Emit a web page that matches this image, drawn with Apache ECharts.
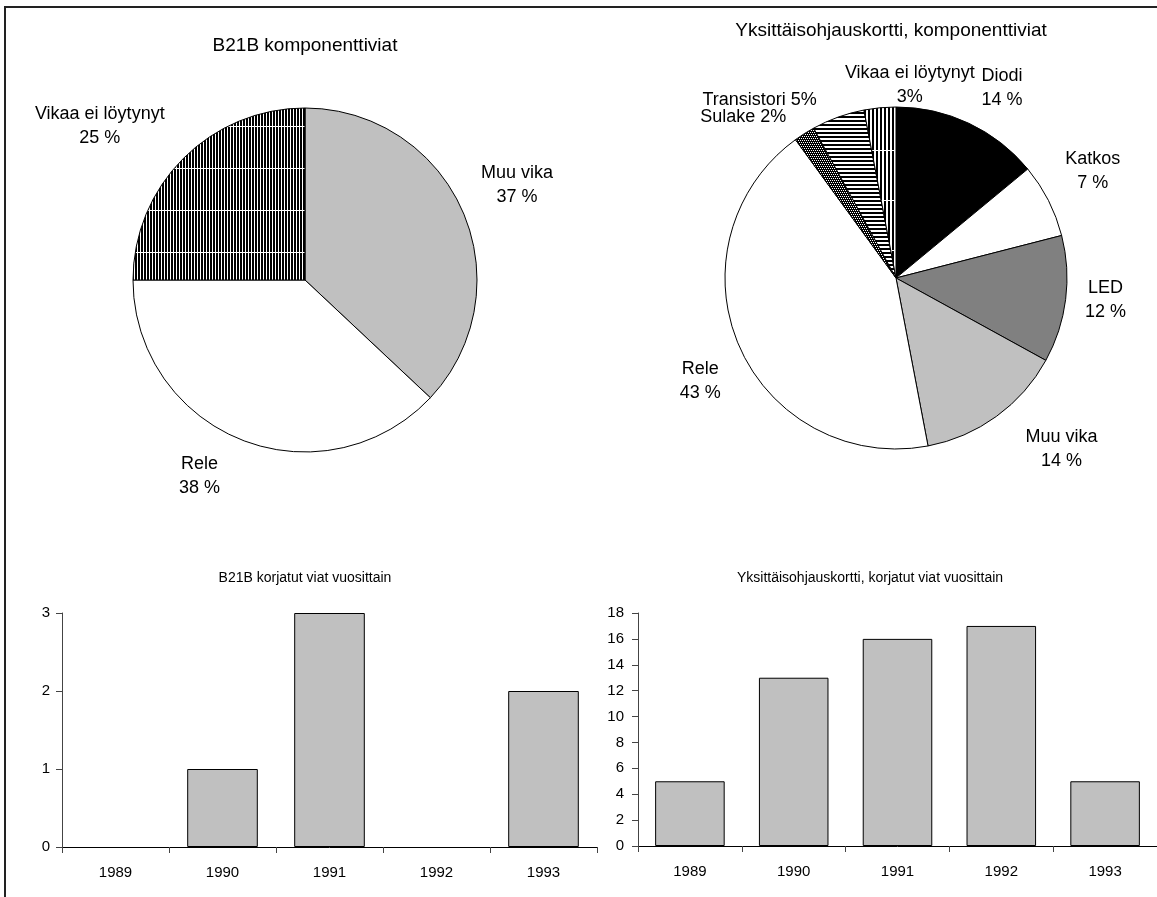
<!DOCTYPE html>
<html>
<head>
<meta charset="utf-8">
<script src="https://cdn.jsdelivr.net/npm/echarts@6/dist/echarts.min.js"></script>
<style>
  html, body { margin: 0; padding: 0; background: #fff; }
  #chart { width: 1157px; height: 897px; }
</style>
</head>
<body>
<div id="chart"></div>
<script>
// B21B pie
var b21bPieNames = ['Muu vika', 'Rele', 'Vikaa ei löytynyt']
var b21bPieValues = [37, 38, 25]
var b21bPieLabels = ['Muu vika\n37 %', 'Rele\n38 %', 'Vikaa ei löytynyt\n25 %']

// Yksittäisohjauskortti pie
var cardPieNames = ['Diodi', 'Katkos', 'LED', 'Muu vika', 'Rele', 'Sulake', 'Transistori', 'Vikaa ei löytynyt']
var cardPieValues = [14, 7, 12, 14, 43, 2, 5, 3]
var cardPieLabels = ['Diodi\n14 %', 'Katkos\n7 %', 'LED\n12 %', 'Muu vika\n14 %', 'Rele\n43 %', 'Sulake 2%', 'Transistori 5%', 'Vikaa ei löytynyt\n3%']

// repairs per year
var years = ['1989', '1990', '1991', '1992', '1993']
var b21bRepairs = [0, 1, 3, 0, 2]
var cardRepairs = [5, 13, 16, 17, 5]

var FONT = "'Liberation Sans', Arial, sans-serif"

function makePattern (w, h, draw) {
  var c = document.createElement('canvas')
  c.width = w
  c.height = h
  var ctx = c.getContext('2d')
  draw(ctx)
  return { image: c, repeat: 'repeat' }
}

var denseVertical = makePattern(3, 42, function (ctx) {
  ctx.fillStyle = '#000'
  ctx.fillRect(0, 0, 3, 42)
  ctx.fillStyle = '#fff'
  ctx.fillRect(2, 0, 1, 42)
  ctx.fillRect(0, 0, 3, 1)
})
var wideVertical = makePattern(4, 50, function (ctx) {
  ctx.fillStyle = '#fff'
  ctx.fillRect(0, 0, 4, 50)
  ctx.fillStyle = '#000'
  ctx.fillRect(0, 1, 2, 49)
})
var horizontalLines = makePattern(4, 4, function (ctx) {
  ctx.fillStyle = '#fff'
  ctx.fillRect(0, 0, 4, 4)
  ctx.fillStyle = '#000'
  ctx.fillRect(0, 0, 4, 2)
})
var dotted = makePattern(4, 4, function (ctx) {
  ctx.fillStyle = '#000'
  ctx.fillRect(0, 0, 4, 4)
  ctx.fillStyle = '#fff'
  ctx.fillRect(0, 0, 1, 1)
  ctx.fillRect(2, 0, 1, 1)
  ctx.fillRect(1, 2, 1, 1)
  ctx.fillRect(3, 2, 1, 1)
})

var b21bFills = ['#c0c0c0', '#ffffff', denseVertical]
var cardFills = ['#000000', '#ffffff', '#808080', '#c0c0c0', '#ffffff', dotted, horizontalLines, wideVertical]

// label nudges so text sits where the original had it
var b21bNudge = [[4, -5], [-22, -15], [-45, 6]]
var cardNudge = [[10, 14], [-4, -5], [-14, -6], [33, -11], [11, 14], [-32, 29], [-60, 34], [35, 31]]

function pieData (names, values, fills) {
  return names.map(function (n, i) {
    return { name: n, value: values[i], itemStyle: { color: fills[i] } }
  })
}

function pieSeries (center, r, names, values, fills) {
  return {
    type: 'pie',
    center: center,
    radius: r,
    startAngle: 90,
    silent: true,
    label: { show: false },
    labelLine: { show: false },
    itemStyle: { borderColor: '#000', borderWidth: 1 },
    data: pieData(names, values, fills)
  }
}

// invisible ring whose inside labels fall outside the real pie
function labelRing (center, r, names, values, labels, nudge) {
  return {
    type: 'pie',
    center: center,
    radius: [r, r * 1.6],
    startAngle: 90,
    silent: true,
    itemStyle: { color: 'rgba(0,0,0,0)', borderWidth: 0 },
    label: {
      show: true,
      position: 'inside',
      color: '#000',
      fontFamily: FONT,
      fontSize: 18,
      lineHeight: 24,
      formatter: function (p) { return labels[p.dataIndex] }
    },
    labelLine: { show: false },
    labelLayout: function (p) {
      var d = nudge[p.dataIndex]
      return { dx: d[0], dy: d[1] }
    },
    data: names.map(function (n, i) { return { name: n, value: values[i] } })
  }
}

function barData (values) {
  // an empty year gets no outline on the axis
  return values.map(function (v) {
    return v === 0 ? { value: v, itemStyle: { borderWidth: 0 } } : v
  })
}

function barAxisY (max, interval, margin) {
  return {
    type: 'value',
    min: 0,
    max: max,
    interval: interval,
    splitLine: { show: false },
    axisLine: { show: true, lineStyle: { color: '#444', width: 1 } },
    axisTick: { show: true, length: 6, lineStyle: { color: '#444' } },
    axisLabel: { color: '#000', fontFamily: FONT, fontSize: 15, margin: margin }
  }
}

function barAxisX (gridIndex) {
  return {
    type: 'category',
    gridIndex: gridIndex,
    data: years,
    axisLine: { lineStyle: { color: '#000', width: 1 } },
    axisTick: { show: true, length: 6, lineStyle: { color: '#444' } },
    axisLabel: { color: '#000', fontFamily: FONT, fontSize: 15, margin: 18 }
  }
}

var titleStyle = { color: '#000', fontFamily: FONT, fontWeight: 'normal' }

var option = {
  animation: false,
  backgroundColor: '#fff',
  title: [
    { text: 'B21B komponenttiviat', left: 300, top: 31, textAlign: 'center', textStyle: Object.assign({ fontSize: 19 }, titleStyle) },
    { text: 'Yksittäisohjauskortti, komponenttiviat', left: 886, top: 16, textAlign: 'center', textStyle: Object.assign({ fontSize: 19 }, titleStyle) },
    { text: 'B21B korjatut viat vuosittain', left: 300, top: 566, textAlign: 'center', textStyle: Object.assign({ fontSize: 14 }, titleStyle) },
    { text: 'Yksittäisohjauskortti, korjatut viat vuosittain', left: 865, top: 566, textAlign: 'center', textStyle: Object.assign({ fontSize: 14 }, titleStyle) }
  ],
  graphic: [
    {
      type: 'polyline',
      shape: { points: [[5, 897], [5, 7], [1157, 7]] },
      style: { stroke: '#222', lineWidth: 2, fill: null },
      silent: true
    }
  ],
  grid: [
    { left: 62, right: 560, top: 613, bottom: 50 },
    { left: 638, right: -3, top: 613, bottom: 51 }
  ],
  xAxis: [barAxisX(0), barAxisX(1)],
  yAxis: [
    Object.assign({ gridIndex: 0 }, barAxisY(3, 1, 12)),
    Object.assign({ gridIndex: 1 }, barAxisY(18, 2, 14))
  ],
  series: [
    pieSeries(['305', '280'], 172, b21bPieNames, b21bPieValues, b21bFills),
    labelRing(['305', '280'], 172, b21bPieNames, b21bPieValues, b21bPieLabels, b21bNudge),
    pieSeries(['896', '278'], 171, cardPieNames, cardPieValues, cardFills),
    labelRing(['896', '278'], 171, cardPieNames, cardPieValues, cardPieLabels, cardNudge),
    {
      type: 'bar',
      xAxisIndex: 0,
      yAxisIndex: 0,
      data: barData(b21bRepairs),
      barCategoryGap: '34%',
      silent: true,
      itemStyle: { color: '#c0c0c0', borderColor: '#000', borderWidth: 1 }
    },
    {
      type: 'bar',
      xAxisIndex: 1,
      yAxisIndex: 1,
      data: barData(cardRepairs),
      barCategoryGap: '33%',
      silent: true,
      itemStyle: { color: '#c0c0c0', borderColor: '#000', borderWidth: 1 }
    }
  ]
}

var myChart = echarts.init(document.getElementById('chart'), null, { renderer: 'canvas' })
myChart.setOption(option)
</script>
</body>
</html>
